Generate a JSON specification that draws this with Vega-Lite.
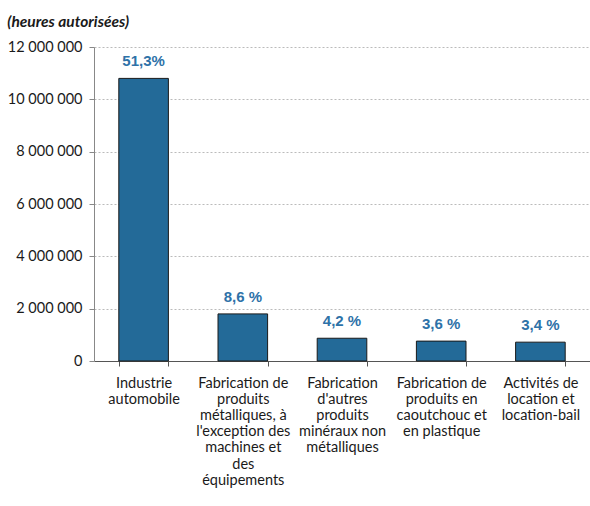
{
  "$schema": "https://vega.github.io/schema/vega-lite/v6.json",
  "width": 496,
  "height": 314,
  "autosize": "none",
  "padding": {"left": 94, "top": 47, "right": 0, "bottom": 145},
  "background": "white",
  "config": {
    "view": {"stroke": null},
    "locale": {"number": {"decimal": ",", "thousands": " ", "grouping": [3], "currency": ["", " €"]}},
    "font": "Lato"
  },
  "title": {
    "text": "(heures autorisées)",
    "anchor": "start",
    "frame": "bounds",
    "font": "Lato",
    "fontSize": 15.5,
    "fontStyle": "italic",
    "fontWeight": "bold",
    "color": "#1a1a1a",
    "offset": 9
  },
  "data": {
    "values": [
      {"secteur": "Industrie\nautomobile", "heures": 10800000, "part": "51,3%"},
      {"secteur": "Fabrication de\nproduits\nmétalliques, à\nl'exception des\nmachines et\ndes\néquipements", "heures": 1800000, "part": "8,6 %"},
      {"secteur": "Fabrication\nd'autres\nproduits\nminéraux non\nmétalliques", "heures": 870000, "part": "4,2 %"},
      {"secteur": "Fabrication de\nproduits en\ncaoutchouc et\nen plastique", "heures": 760000, "part": "3,6 %"},
      {"secteur": "Activités de\nlocation et\nlocation-bail", "heures": 720000, "part": "3,4 %"}
    ]
  },
  "encoding": {
    "x": {
      "field": "secteur",
      "type": "nominal",
      "sort": null,
      "scale": {"paddingInner": 0.5, "paddingOuter": 0.25},
      "axis": {
        "title": null,
        "labelAngle": 0,
        "labelExpr": "split(datum.label, '\\n')",
        "labelFont": "Lato",
        "labelFontSize": 14.5,
        "labelColor": "#1a1a1a",
        "labelLineHeight": 16.2,
        "labelPadding": 10,
        "labelBaseline": "top",
        "tickBand": "extent",
        "tickSize": 5,
        "tickColor": "#555555",
        "domainColor": "#555555",
        "labelLimit": 200
      }
    },
    "y": {
      "field": "heures",
      "type": "quantitative",
      "scale": {"domain": [0, 12000000], "nice": false},
      "axis": {
        "title": null,
        "values": [0, 2000000, 4000000, 6000000, 8000000, 10000000, 12000000],
        "format": ",d",
        "labelFont": "Lato",
        "labelFontSize": 14.5,
        "labelColor": "#1a1a1a",
        "labelPadding": 7,
        "tickSize": 5,
        "tickColor": "#888888",
        "domainColor": "#888888",
        "gridColor": "#aaaaaa",
        "gridDash": [2, 2],
        "gridWidth": 0.8
      }
    }
  },
  "layer": [
    {
      "mark": {"type": "bar", "fill": "#236A98", "stroke": "#1a1a1a", "strokeWidth": 1}
    },
    {
      "mark": {"type": "text", "baseline": "bottom", "dy": -9, "font": "Liberation Sans", "fontSize": 15, "fontWeight": "bold", "color": "#2E72A8"},
      "encoding": {"text": {"field": "part"}}
    }
  ]
}
